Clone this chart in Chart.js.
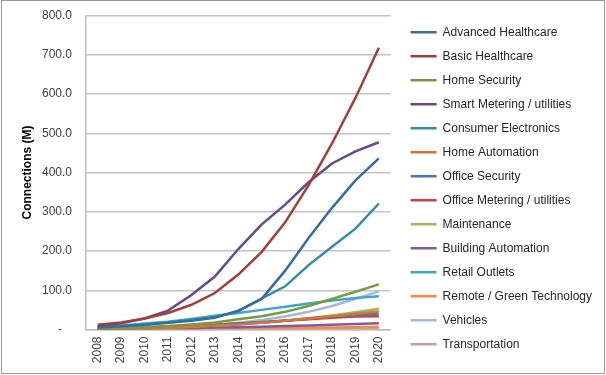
<!DOCTYPE html>
<html>
<head>
<meta charset="utf-8">
<script src="https://cdn.jsdelivr.net/npm/chart.js@4.4.1/dist/chart.umd.min.js"></script>
<style>
  html, body { margin: 0; padding: 0; background: #fff; }
  #wrap { position: relative; width: 606px; height: 375px; }
  #frame { position: absolute; left: 1px; top: 0; width: 602px; height: 372px;
           border: 1px solid #9a9a9a; pointer-events: none; }
</style>
</head>
<body>
<div id="wrap">
  <canvas id="chart" width="606" height="375"></canvas>
  <div id="frame"></div>
</div>
<script>
// years on the x axis
const years = ['2008', '2009', '2010', '2011', '2012', '2013', '2014',
               '2015', '2016', '2017', '2018', '2019', '2020'];

// connections (M)
const advancedHealthcare   = [5, 8, 12, 17, 22, 30, 48, 78, 150, 233, 310, 380, 436];
const basicHealthcare      = [12, 18, 28, 42, 63, 93, 140, 198, 273, 368, 474, 590, 718];
const homeSecurity         = [2, 4, 6, 9, 13, 18, 26, 34, 45, 60, 78, 96, 115];
const smartMetering        = [8, 16, 28, 48, 88, 135, 205, 268, 318, 375, 423, 454, 477];
const consumerElectronics  = [5, 8, 12, 18, 25, 32, 46, 79, 110, 164, 211, 257, 321];
const homeAutomation       = [1, 2, 3, 5, 7, 10, 13, 17, 22, 28, 34, 40, 46];
const officeSecurity       = [2, 3, 5, 7, 9, 12, 15, 19, 23, 28, 33, 37, 41];
const officeMetering       = [2, 3, 5, 7, 9, 12, 15, 18, 22, 26, 30, 33, 34];
const maintenance          = [1, 2, 3, 5, 7, 10, 13, 17, 22, 29, 36, 44, 53];
const buildingAutomation   = [1, 1, 2, 3, 4, 5, 6, 7, 9, 10, 12, 14, 16];
const retailOutlets        = [5, 10, 15, 20, 27, 35, 42, 50, 58, 66, 74, 80, 85];
const remoteGreen          = [0.5, 1, 1, 2, 2, 3, 3, 4, 4, 5, 5, 6, 7];
const vehicles             = [1, 2, 3, 5, 8, 12, 17, 24, 33, 45, 60, 78, 97];
const transportation       = [0.5, 0.5, 1, 1, 1, 1, 2, 2, 2, 2, 3, 3, 3];

const seriesNames = [
  'Advanced Healthcare', 'Basic Healthcare', 'Home Security',
  'Smart Metering / utilities', 'Consumer Electronics', 'Home Automation',
  'Office Security', 'Office Metering / utilities', 'Maintenance',
  'Building Automation', 'Retail Outlets', 'Remote / Green Technology',
  'Vehicles', 'Transportation'
];
const seriesData = [
  advancedHealthcare, basicHealthcare, homeSecurity, smartMetering,
  consumerElectronics, homeAutomation, officeSecurity, officeMetering,
  maintenance, buildingAutomation, retailOutlets, remoteGreen,
  vehicles, transportation
];
const seriesColors = [
  '#386BA6', '#A73D39', '#7A9A3C', '#664A8C', '#2E8FA6', '#DA7530',
  '#4477C2', '#C4423F', '#95BF55', '#7D5CAE', '#37A9CB', '#F68B3B',
  '#A4B8DA', '#D49A9A'
];

const font = 'Liberation Sans, Arial, sans-serif';

// nudge the legend away from the plot and up a little, like the Excel original
const legendGap = {
  id: 'legendGap',
  afterUpdate(chart) {
    const lg = chart.legend;
    lg.left += 8;
    lg.right += 8;
    lg.top -= 7;
    lg.bottom -= 7;
  }
};

new Chart(document.getElementById('chart').getContext('2d'), {
  type: 'line',
  data: {
    labels: years,
    datasets: seriesNames.map((name, i) => ({
      label: name,
      data: seriesData[i],
      borderColor: seriesColors[i],
      backgroundColor: seriesColors[i],
      borderWidth: 2.5,
      pointRadius: 0,
      tension: 0,
    })),
  },
  options: {
    responsive: false,
    animation: false,
    layout: { padding: { left: 20, top: 15.5, right: 12, bottom: 0 } },
    plugins: {
      tooltip: { enabled: false },
      legend: {
        position: 'right',
        align: 'center',
        maxWidth: 230,
        labels: {
          usePointStyle: true,
          pointStyle: 'line',
          pointStyleWidth: 26,
          padding: 12,
          color: '#262626',
          font: { family: font, size: 12 },
        },
      },
    },
    scales: {
      x: {
        offset: true,
        afterFit: s => { s.height = 45.5; },
        grid: { display: false, drawTicks: false },
        border: { display: true, color: '#bfbfbf', width: 1.5 },
        ticks: {
          autoSkip: false,
          minRotation: 90,
          maxRotation: 90,
          padding: 7,
          color: '#404040',
          font: { family: font, size: 12 },
        },
      },
      y: {
        min: 0,
        max: 800,
        afterFit: s => { s.width = 66; s.paddingTop = 0; s.paddingBottom = 0; },
        grid: { color: '#c4c4c4', lineWidth: 1.5, drawTicks: false },
        border: { display: true, color: '#bfbfbf', width: 1.5 },
        ticks: {
          stepSize: 100,
          padding: 14,
          color: '#404040',
          font: { family: font, size: 12 },
          callback: v => v === 0 ? '-   ' : v.toFixed(1),
        },
        title: {
          display: true,
          text: 'Connections (M)',
          color: '#000',
          font: { family: font, size: 12, weight: 'bold' },
          padding: { top: 0, bottom: 6 },
        },
      },
    },
  },
  plugins: [legendGap],
});
</script>
</body>
</html>
